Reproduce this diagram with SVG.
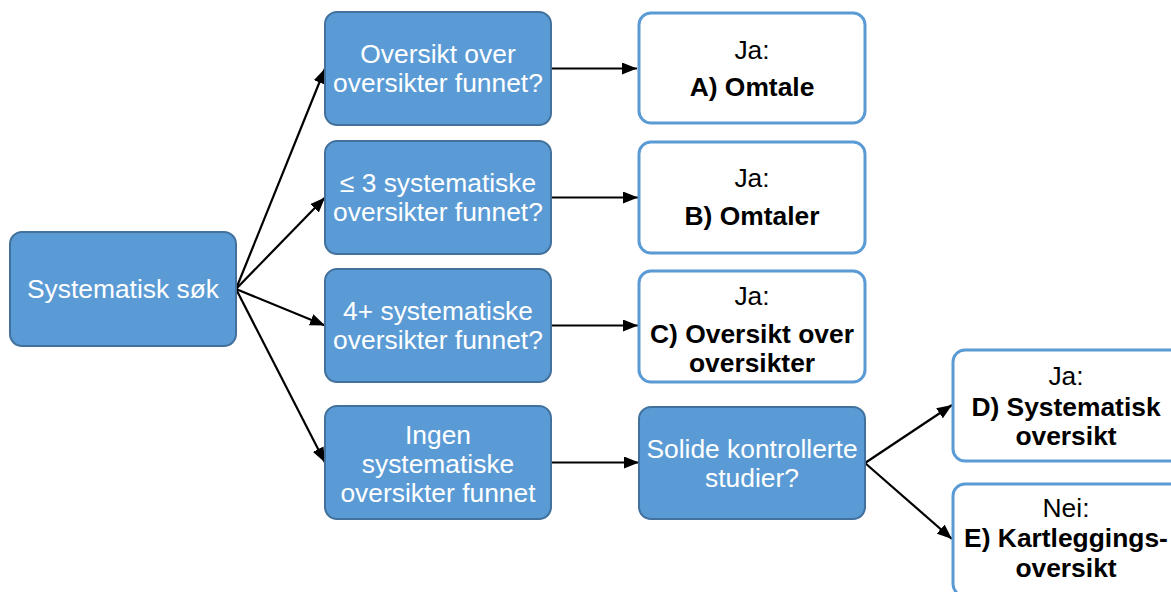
<svg xmlns="http://www.w3.org/2000/svg" width="1171" height="592" viewBox="0 0 1171 592">
  <defs>
    <marker id="arrow" markerUnits="userSpaceOnUse" markerWidth="16" markerHeight="12" refX="15" refY="6" orient="auto">
      <path d="M0,0 L15,6 L0,12 z" fill="#000"/>
    </marker>
    <style>
      .q { fill: #5B9BD5; stroke: #41719C; stroke-width: 2; }
      .a { fill: #FFFFFF; stroke: #5B9BD5; stroke-width: 3; }
      .qt { font-family: "Liberation Sans", Arial, sans-serif; font-size: 26.4px; fill: #FFFFFF; text-anchor: middle; }
      .at { font-family: "Liberation Sans", Arial, sans-serif; font-size: 26.4px; fill: #000000; text-anchor: middle; }
      .b { font-weight: bold; }
      .c { stroke: #000; stroke-width: 2.2; fill: none; marker-end: url(#arrow); }
    </style>
  </defs>
  <rect width="1171" height="592" fill="#FFFFFF"/>

  <g id="connectors">
    <line class="c" x1="236" y1="289" x2="325" y2="68.5"/>
    <line class="c" x1="236" y1="289" x2="325" y2="197.5"/>
    <line class="c" x1="236" y1="289" x2="325" y2="325.5"/>
    <line class="c" x1="236" y1="289" x2="325" y2="462.5"/>
    <line class="c" x1="551" y1="68.5" x2="637" y2="68.5"/>
    <line class="c" x1="551" y1="197.5" x2="638" y2="197.5"/>
    <line class="c" x1="551" y1="325.5" x2="638" y2="325.5"/>
    <line class="c" x1="551" y1="462.5" x2="639" y2="462.5"/>
    <line class="c" x1="865" y1="463" x2="952" y2="405"/>
    <line class="c" x1="865" y1="463" x2="952" y2="539"/>
  </g>

  <g id="n-systematisk-sok">
    <rect class="q" x="10" y="232" width="226" height="114" rx="12"/>
    <text class="qt" x="123" y="298">Systematisk søk</text>
  </g>

  <g id="n-q-a">
    <rect class="q" x="325" y="12" width="226" height="113" rx="12"/>
    <text class="qt" x="438" y="63">Oversikt over</text>
    <text class="qt" x="438" y="92">oversikter funnet?</text>
  </g>
  <g id="n-q-b">
    <rect class="q" x="325" y="141" width="226" height="113" rx="12"/>
    <text class="qt" x="438" y="192">≤ 3 systematiske</text>
    <text class="qt" x="438" y="221">oversikter funnet?</text>
  </g>
  <g id="n-q-c">
    <rect class="q" x="325" y="269" width="226" height="113" rx="12"/>
    <text class="qt" x="438" y="320">4+ systematiske</text>
    <text class="qt" x="438" y="349">oversikter funnet?</text>
  </g>
  <g id="n-q-d">
    <rect class="q" x="325" y="406" width="226" height="113" rx="12"/>
    <text class="qt" x="438" y="444">Ingen</text>
    <text class="qt" x="438" y="473">systematiske</text>
    <text class="qt" x="438" y="502">oversikter funnet</text>
  </g>

  <g id="n-a">
    <rect class="a" x="639" y="13" width="226" height="110" rx="12"/>
    <text class="at" x="752" y="59">Ja:</text>
    <text class="at b" x="752" y="96">A) Omtale</text>
  </g>
  <g id="n-b">
    <rect class="a" x="639" y="142" width="226" height="111" rx="12"/>
    <text class="at" x="752" y="187">Ja:</text>
    <text class="at b" x="752" y="225">B) Omtaler</text>
  </g>
  <g id="n-c">
    <rect class="a" x="639" y="271" width="226" height="111" rx="12"/>
    <text class="at" x="752" y="305">Ja:</text>
    <text class="at b" x="752" y="343">C) Oversikt over</text>
    <text class="at b" x="752" y="372">oversikter</text>
  </g>

  <g id="n-solide">
    <rect class="q" x="639" y="407" width="226" height="112" rx="12"/>
    <text class="qt" x="752" y="458">Solide kontrollerte</text>
    <text class="qt" x="752" y="487">studier?</text>
  </g>

  <g id="n-d">
    <rect class="a" x="953" y="350" width="245" height="111" rx="12"/>
    <text class="at" x="1066" y="385">Ja:</text>
    <text class="at b" x="1066" y="416">D) Systematisk</text>
    <text class="at b" x="1066" y="445">oversikt</text>
  </g>
  <g id="n-e">
    <rect class="a" x="953" y="484" width="245" height="112" rx="12"/>
    <text class="at" x="1066" y="517">Nei:</text>
    <text class="at b" x="1066" y="547">E) Kartleggings-</text>
    <text class="at b" x="1066" y="577">oversikt</text>
  </g>
</svg>
